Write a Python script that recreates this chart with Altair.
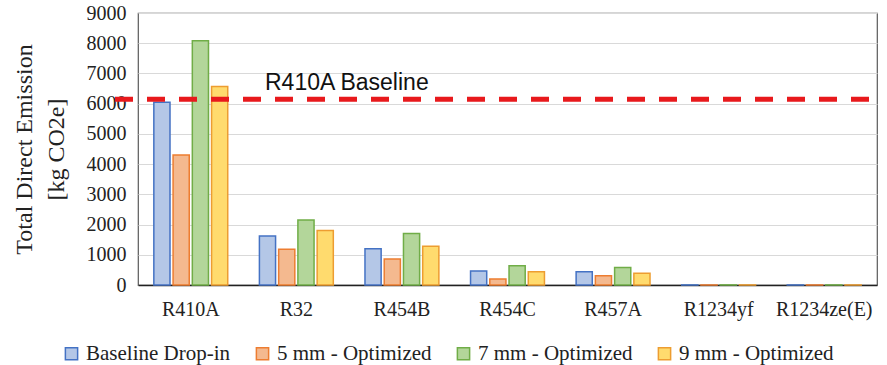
import altair as alt
import pandas as pd

refrigerants = ["R410A", "R32", "R454B", "R454C", "R457A", "R1234yf", "R1234ze(E)"]
series = ["Baseline Drop-in", "5 mm - Optimized", "7 mm - Optimized", "9 mm - Optimized"]
baseline = [6050, 1620, 1200, 465, 440, 2, 1]
opt5 = [4300, 1180, 860, 200, 310, 1, 1]
opt7 = [8080, 2150, 1700, 640, 575, 3, 2]
opt9 = [6570, 1800, 1280, 440, 390, 2, 1]
baseline_line = [6150]
baseline_label = ["R410A Baseline"]
y_ticks = [0, 1000, 2000, 3000, 4000, 5000, 6000, 7000, 8000, 9000]

fills = ["#b4c7e7", "#f4b98f", "#b3d69a", "#ffdb6e"]
strokes = ["#4472c4", "#ed7d31", "#70ad47", "#ed9d31"]

rows = []
for s, vals in zip(series, [baseline, opt5, opt7, opt9]):
    for r, v in zip(refrigerants, vals):
        rows.append({"Refrigerant": r, "Series": s, "Emission": v})
df = pd.DataFrame(rows)

W, H = 739, 272
SERIF = "Liberation Serif"

legend = alt.Legend(
    title=None, orient="none", legendX=-77, legendY=330, direction="horizontal",
    columns=4, columnPadding=21, labelFont=SERIF, labelFontSize=21, labelColor="#222",
    symbolType="square", symbolSize=150, symbolStrokeWidth=1.5, labelOffset=4,
    labelLimit=400,
)

def y_axis():
    return alt.Axis(values=y_ticks, format="d", labelOverlap=False,
                    title=["Total Direct Emission", "[kg CO2e]"],
                    titleFont=SERIF, titleFontSize=24, titleFontWeight="normal",
                    titleColor="#222", titleLineHeight=32, titleAngle=270,
                    titleBaseline="top", titleAlign="center",
                    titleX=-126, titleY=136,
                    labelFont=SERIF, labelFontSize=20, labelColor="#222",
                    labelPadding=12, ticks=False, domain=False,
                    gridColor="#d9d9d9", gridWidth=1)

y_scale = alt.Scale(domain=[0, 9000], nice=False)

bars = alt.Chart(df).mark_bar(strokeWidth=1.5).encode(
    x=alt.X("Refrigerant:N", sort=refrigerants,
            scale=alt.Scale(paddingInner=0.3, paddingOuter=0.15),
            axis=alt.Axis(title=None, labelAngle=0, labelFont=SERIF, labelFontSize=20,
                          labelColor="#222", labelPadding=14, ticks=False,
                          domainColor="#222", domainWidth=1.5)),
    xOffset=alt.XOffset("Series:N", sort=series,
                        scale=alt.Scale(domain=series, paddingInner=0.16)),
    y=alt.Y("Emission:Q", scale=y_scale, axis=y_axis()),
    fill=alt.Fill("Series:N", scale=alt.Scale(domain=series, range=fills), legend=legend),
    stroke=alt.Stroke("Series:N", scale=alt.Scale(domain=series, range=strokes), legend=legend),
)

line_df = pd.DataFrame({"Emission": baseline_line, "label": baseline_label})

rule = alt.Chart(line_df).mark_rule(
    color="#e8191c", strokeWidth=5, strokeDash=[18, 14]
).encode(
    y=alt.Y("Emission:Q", scale=y_scale, axis=y_axis()),
    x=alt.value(-23),
    x2=alt.value(W + 4),
)

label = alt.Chart(line_df).mark_text(
    align="left", baseline="alphabetic", font="Liberation Sans", fontSize=23, color="#111"
).encode(
    text="label:N",
    x=alt.value(127),
    y=alt.value(77),
)

chart = alt.layer(bars, rule, label).properties(
    width=W, height=H,
    autosize=alt.AutoSizeParams(type="none"),
    padding={"left": 138, "top": 13, "right": 10, "bottom": 80},
    background="white",
).configure_view(
    stroke="#595959", strokeWidth=1.2
).configure_axis(
    labelFont=SERIF, titleFont=SERIF
).configure_legend(
    labelFont=SERIF, labelFontSize=21
)

chart.save("out.html", embed_options={"renderer": "svg", "actions": False})
